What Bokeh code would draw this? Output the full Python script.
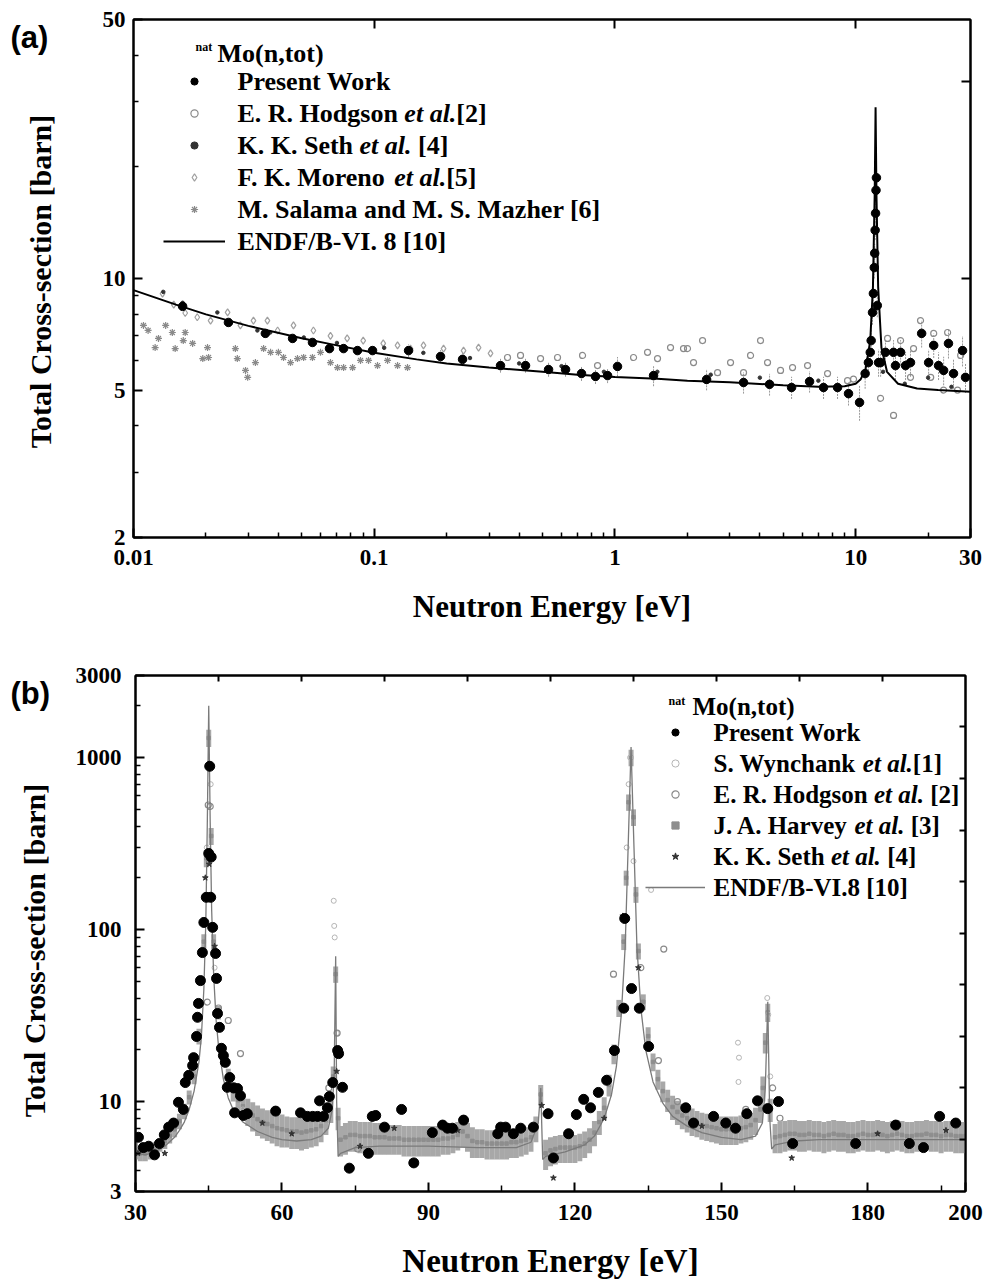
import math
from bokeh.plotting import figure
from bokeh.models import (Range1d, FixedTicker, LogAxis, LinearAxis, Label, Legend,
                          LegendItem, NumeralTickFormatter, ColumnDataSource,
                          CustomJSTickFormatter)
from bokeh.layouts import column, row
from bokeh.embed import file_html
from bokeh.resources import INLINE

# ======================= panel (a) data : 0.01 - 30 eV =======================
a_pw_e = [0.0160, 0.0248, 0.0353, 0.0458, 0.0554, 0.0652, 0.0746, 0.0852, 0.0984,
          0.1389, 0.1886, 0.2328, 0.3347, 0.4252, 0.530, 0.6235, 0.7264, 0.8305, 0.932,
          1.025, 1.447, 2.403, 3.422, 4.389, 5.418, 6.435, 7.355, 8.41, 9.34,
          10.38, 10.95, 11.3, 11.5, 11.6, 11.75, 11.85, 11.95, 12.0, 12.05, 12.1, 12.15,
          12.2, 12.3, 12.45, 12.7, 13.3, 14.37, 14.64, 15.37, 16.12, 16.9, 18.8, 20.1,
          21.1, 22.1, 23.2, 24.3, 25.5, 27.8, 28.6]
a_pw_s = [8.41, 7.61, 7.11, 6.89, 6.72, 6.47, 6.47, 6.39, 6.39,
          6.39, 6.16, 6.05, 5.82, 5.82, 5.68, 5.68, 5.54, 5.44, 5.47,
          5.79, 5.47, 5.34, 5.24, 5.18, 5.08, 5.27, 5.08, 5.08, 4.89,
          4.63, 5.54, 5.93, 6.32, 6.80, 8.10, 9.11, 10.7, 11.7, 13.5, 15.0, 17.3,
          18.7, 8.46, 5.93, 5.93, 6.32, 6.32, 5.82, 6.32, 5.82, 5.93, 7.11, 5.93,
          6.60, 5.82, 5.65, 6.68, 5.54, 6.39, 5.41]
a_pw_d = [0.15, 0.15, 0.15, 0.15, 0.15, 0.15, 0.15, 0.15, 0.15,
          0.25, 0.25, 0.25, 0.25, 0.25, 0.25, 0.25, 0.25, 0.25, 0.25,
          0.35, 0.35, 0.35, 0.35, 0.35, 0.35, 0.35, 0.35, 0.35, 0.35,
          0.5, 0.5, 0.5, 0.5, 0.5, 0.6, 0.6, 0.7, 0.7, 0.8, 0.9, 1.0,
          1.0, 0.6, 0.5, 0.5, 0.5, 0.5, 0.5, 0.5, 0.5, 0.5, 0.6, 0.5,
          0.5, 0.5, 0.5, 0.6, 0.5, 0.6, 0.5]

a_hod_e = [0.3579, 0.4053, 0.4909, 0.5775, 0.7336, 0.8467, 1.195, 1.366, 1.503, 1.702,
           1.927, 2.002, 2.121, 2.312, 2.669, 3.022, 3.422, 3.659, 4.026, 4.305, 4.875,
           5.468, 6.313, 7.644, 9.254, 9.80, 12.69, 13.57, 14.37, 15.37, 16.9, 17.4,
           18.6, 20.5, 21.1, 23.2, 24.1, 26.5, 27.3]
a_hod_s = [6.12, 6.2, 6.08, 6.12, 6.2, 5.82, 6.12, 6.32, 6.08, 6.51,
           6.47, 6.47, 5.93, 6.8, 5.57, 5.93, 5.57, 6.2, 6.8, 5.93, 5.65,
           5.75, 5.82, 5.54, 5.3, 5.35, 4.75, 6.89, 4.27, 6.8, 5.41, 6.47,
           7.7, 5.41, 7.11, 5.0, 7.15, 5.0, 6.2]

a_seth_e = [0.0133, 0.016, 0.0223, 0.0253, 0.0327, 0.037, 0.051, 0.07, 0.11, 0.16,
            0.25, 0.4, 0.6, 0.9, 1.5, 2.5, 4.0, 7.0, 13.0, 16.0, 20.0, 25.0]
a_seth_s = [9.2, 8.6, 8.1, 7.6, 7.24, 7.15, 6.93, 6.7, 6.5, 6.3,
            6.1, 5.9, 5.8, 5.6, 5.6, 5.5, 5.4, 5.3, 5.6, 5.2, 5.4, 5.1]

a_mor_e = [0.0132, 0.0147, 0.0164, 0.0184, 0.0209, 0.0246, 0.0278, 0.0315, 0.0360,
           0.0397, 0.0462, 0.0559, 0.0658, 0.0772, 0.0900, 0.1090, 0.125, 0.1415,
           0.1602, 0.1941, 0.2350, 0.2713, 0.3042]
a_mor_s = [9.1, 8.5, 8.07, 7.86, 7.7, 8.1, 7.47, 7.7, 7.7,
           7.24, 7.47, 7.24, 7.0, 6.89, 6.8, 6.68, 6.6, 6.47,
           6.6, 6.47, 6.39, 6.51, 6.28]

a_sal_e = [0.0110, 0.0115, 0.0123, 0.0127, 0.0136, 0.0145, 0.0149, 0.0161, 0.0164,
           0.0176, 0.0194, 0.0203, 0.0205, 0.0265, 0.0270, 0.0292, 0.0298, 0.0321,
           0.0347, 0.0371, 0.0400, 0.0420, 0.0449, 0.0480, 0.0509, 0.0554, 0.0598,
           0.0658, 0.0704, 0.0746, 0.0813, 0.0877, 0.0947, 0.1032, 0.1136, 0.1250, 0.1375]
a_sal_s = [7.47, 7.24, 6.51, 6.89, 7.47, 7.15, 6.47, 6.80, 7.15,
           6.68, 6.08, 6.51, 6.12, 6.47, 6.08, 5.65, 5.41, 5.93,
           6.47, 6.32, 6.32, 6.12, 5.93, 6.08, 6.12, 6.12, 6.32,
           5.93, 5.75, 5.75, 5.75, 6.01, 6.01, 5.82, 6.01, 5.82, 5.75]

a_endf_e = [0.01, 0.015, 0.02, 0.03, 0.05, 0.07, 0.1, 0.15, 0.2, 0.3, 0.5, 0.7, 1, 1.5,
            2, 3, 5, 7, 9, 10, 10.5, 11, 11.5, 11.8, 12.0, 12.1, 12.2, 12.4, 12.8,
            13.5, 15, 18, 22, 30]
a_endf_s = [9.3, 8.5, 8.0, 7.45, 6.9, 6.6, 6.3, 6.05, 5.9, 5.75, 5.6, 5.5, 5.42, 5.36,
            5.3, 5.25, 5.15, 5.1, 5.12, 5.2, 5.35, 5.7, 6.8, 9.5, 17, 29, 17, 9.5, 6.5,
            5.6, 5.2, 5.05, 5.0, 4.95]

# ======================= panel (b) data : 30 - 200 eV =======================
b_pw_e = [30.6, 31.6, 32.7, 33.9, 34.9, 35.9, 36.8, 37.8, 38.8, 39.8, 40.2, 40.9, 41.7,
          41.9, 42.5, 42.7, 42.9, 43.3, 43.7, 44.0, 44.5, 45.0, 45.2, 45.4, 45.5, 45.8,
          46.4, 46.6, 46.8, 47.2, 47.6, 48.0, 48.4, 48.8, 49.3, 50.1, 50.3, 50.9, 51.5,
          52.1, 52.9, 58.7, 63.8, 65.2, 66.3, 67.3, 67.7, 68.5, 69.3, 69.7, 70.4, 71.4,
          71.6, 72.4, 73.8, 77.7, 78.5, 79.2, 81.0, 84.5, 87.0, 90.8, 92.9, 93.9, 94.9,
          97.2, 104.2, 104.8, 105.8, 107.4, 108.9, 111.5, 114.5, 115.6, 118.7, 120.3,
          121.8, 123.2, 124.8, 126.5, 128.1, 130.0, 130.2, 131.6, 133.2, 135.1, 142.7,
          144.3, 148.4, 150.9, 152.9, 155.2, 157.4, 159.5, 161.7, 164.6, 177.5, 185.7,
          188.5, 191.4, 194.7, 198.0]
b_pw_s = [6.2, 5.4, 5.5, 4.9, 5.7, 6.4, 7.1, 7.5, 9.9, 9.0, 12.9, 14.2, 16.2,
          18.0, 23.9, 30.9, 37.2, 50.5, 73.5, 110, 154, 277, 890, 154, 264, 103,
          72.6, 52, 32.5, 27, 20.4, 18.5, 16.9, 12.1, 13.8, 12.0, 8.6, 11.9, 10.8,
          8.3, 8.5, 8.8, 8.6, 8.2, 8.2, 8.2, 10.1, 8.2, 9.2, 10.7, 12.9, 19.8,
          19.0, 12.1, 4.1, 5.0, 8.2, 8.3, 7.1, 9.0, 4.4, 6.6, 7.3, 7.0, 7.0,
          7.8, 6.5, 7.1, 7.1, 6.5, 7.0, 7.1, 8.5, 4.7, 6.5, 8.4,
          10.3, 9.2, 11.3, 13.3, 19.8, 34.9, 116, 45.4, 34.9, 20.9, 9.2,
          7.5, 8.2, 7.5, 7.0, 8.5, 10.1, 9.1, 10.0, 5.7, 5.7, 7.3,
          5.7, 5.4, 8.2, 7.5]

b_wyn_e = [44.6, 45.0, 45.4, 46.2, 52.0, 70.6, 70.7, 70.8, 71.2, 130.6, 131.0, 131.3,
           132.0, 135.6, 153.4, 153.6, 153.5, 159.4, 159.6, 160.0]
b_wyn_s = [300, 900, 700, 60, 9, 147, 105, 90, 25, 300, 700, 1000,
           250, 170, 22, 18, 13, 40, 32, 14]

b_hod_e = [44.7, 44.9, 45.3, 47.0, 49.0, 51.5, 69.6, 71.3, 75.5, 127.9, 133.5, 137.1,
           138.2, 141.0, 155.0, 160.5, 162.0]
b_hod_s = [37.9, 530, 520, 35, 29.6, 19, 12, 25, 5.3, 55, 60, 17.3,
           77, 10, 9, 12, 8]

b_seth_e = [30.5, 36.0, 44.3, 45.1, 46.2, 56.0, 62.0, 71.2, 76.0, 83.0, 96.0, 113.2,
            115.6, 126.0, 129.8, 133.0, 146.0, 164.4, 182.0, 196.0]
b_seth_s = [5.0, 5.0, 200, 240, 80, 7.5, 6.5, 15, 5.5, 7.0, 6.8, 9.5,
            3.6, 8.0, 120, 60, 7.2, 4.7, 6.5, 6.8]

b_har_e = [30, 31, 32, 33, 34, 35, 36, 37, 38, 39, 40, 41, 42, 43, 44,
           44.5, 45, 45.5, 46, 47, 48, 49, 50,
           51, 52, 53, 54, 55, 56, 57, 58, 59, 60, 61, 62, 63, 64, 65, 66, 67, 68, 69, 70,
           70.5, 71, 71.5,
           72, 73, 74, 75, 76, 77, 78, 79, 80, 81, 82, 83, 84, 85, 86, 87, 88, 89, 90, 91,
           92, 93, 94, 95, 96, 97, 98, 99, 100, 101, 102, 103, 104, 105, 106, 107, 108,
           109, 110, 111, 112,
           113, 114, 115, 116, 117, 118, 119, 120, 121, 122, 123, 124, 125, 126, 127, 128,
           129, 130,
           130.5, 131, 131.5, 132, 132.5,
           133, 134, 135, 136, 137, 138, 139, 140, 141, 142, 143, 144, 145, 146, 147, 148,
           149, 150, 151, 152, 153, 154, 155, 156, 157, 158,
           158.5, 159, 159.5,
           160, 161, 162, 163, 164, 165, 166, 167, 168, 169, 170, 171, 172, 173, 174, 175,
           176, 177, 178, 179, 180, 181, 182, 183, 184, 185, 186, 187, 188, 189, 190, 191,
           192, 193, 194, 195, 196, 197, 198, 199, 200]
b_har_s = [5.2, 5.0, 5.0, 5.1, 5.3, 5.6, 5.9, 6.3, 6.9, 7.7, 8.8, 10.6, 14.0, 24.0, 85,
           260, 1300, 350, 85, 33, 19, 14, 11.5,
           10.2, 9.4, 8.8, 8.3, 7.9, 7.6, 7.4, 7.2, 7.0, 6.9, 6.8, 6.7, 6.7, 6.6, 6.7, 6.8,
           6.9, 7.2, 7.8, 9.0,
           14, 55, 8.0,
           6.0, 6.2, 6.4, 6.4, 6.3, 6.3, 6.3, 6.2, 6.2, 6.2, 6.1, 6.1, 6.1, 6.0, 6.0, 6.0,
           6.0, 6.0, 6.0, 6.0, 6.0, 6.1, 6.1, 6.2, 6.4, 6.7, 6.3, 5.9, 5.8, 5.8, 5.7, 5.7,
           5.7, 5.7, 5.7, 5.8, 5.8, 5.9, 6.0, 6.2, 7.0,
           11.0, 5.0, 5.2, 5.3, 5.4, 5.4, 5.4, 5.4, 5.5, 5.7, 6.0, 6.6, 7.6, 9.2, 12.5, 19,
           35, 85,
           200, 550, 1000, 450, 160,
           75, 38, 24, 17, 13.5, 11.5, 10.2, 9.3, 8.7, 8.3, 8.0, 7.7, 7.5, 7.3, 7.2, 7.1,
           7.0, 6.9, 6.9, 6.9, 6.9, 7.0, 7.1, 7.3, 7.8, 9.0,
           12, 22, 33,
           9.0, 6.2, 6.3, 6.4, 6.5, 6.5, 6.4, 6.4, 6.5, 6.4, 6.4, 6.3, 6.4, 6.5, 6.4, 6.4,
           6.3, 6.3, 6.4, 6.5, 6.4, 6.4, 6.5, 6.4, 6.3, 6.4, 6.5, 6.4, 6.3, 6.3, 6.4, 6.4,
           6.5, 6.4, 6.4, 6.3, 6.4, 6.4, 6.3, 6.3, 6.3]
b_har_d = [0.6, 0.5, 0.5, 0.5, 0.5, 0.5, 0.6, 0.6, 0.7, 0.8, 0.9, 1.0, 1.4, 2.5, 9,
           30, 150, 40, 9, 3, 2, 1.5, 1.5,
           1.6, 1.6, 1.6, 1.6, 1.6, 1.5, 1.5, 1.5, 1.5, 1.5, 1.4, 1.4, 1.4, 1.4, 1.4, 1.4,
           1.4, 1.4, 1.4, 1.5,
           2, 6, 1.2,
           1.2, 1.3, 1.3, 1.3, 1.3, 1.3, 1.3, 1.3, 1.3, 1.3, 1.2, 1.2, 1.2, 1.2, 1.2, 1.2,
           1.2, 1.2, 1.2, 1.2, 1.2, 1.2, 1.2, 1.2, 1.2, 1.3, 1.2, 1.2, 1.1, 1.1, 1.1, 1.1,
           1.1, 1.1, 1.1, 1.1, 1.1, 1.1, 1.1, 1.1, 1.2,
           1.5, 1.0, 1.0, 1.0, 1.0, 1.0, 1.0, 1.0, 1.0, 1.0, 1.0, 1.1, 1.2, 1.4, 1.8, 2.5,
           4, 9,
           20, 60, 110, 50, 17,
           8, 4, 3, 2, 1.8, 1.6, 1.5, 1.5, 1.4, 1.4, 1.4, 1.4, 1.3, 1.3, 1.3, 1.3,
           1.3, 1.3, 1.3, 1.3, 1.3, 1.3, 1.3, 1.3, 1.4, 1.5,
           2, 3, 4,
           1.4, 1.2, 1.3, 1.3, 1.3, 1.3, 1.3, 1.3, 1.3, 1.3, 1.3, 1.3, 1.3, 1.3, 1.3, 1.3,
           1.3, 1.3, 1.3, 1.3, 1.3, 1.3, 1.3, 1.3, 1.3, 1.3, 1.3, 1.3, 1.3, 1.3, 1.3, 1.3,
           1.3, 1.3, 1.3, 1.3, 1.3, 1.3, 1.3, 1.3, 1.3]

b_endf_e = [30, 32, 34, 36, 38, 39, 40, 41, 42, 43, 43.5, 44, 44.4, 44.7, 45.0, 45.3,
            45.6, 46, 46.5, 47, 48, 49, 50, 52, 55, 58, 60, 63, 66, 68, 69.5, 70.3, 70.7,
            71.0, 71.2, 71.5, 72, 75, 80, 90, 100, 108, 111, 112.5, 113.0, 113.4, 114,
            118, 122, 124, 126, 127.5, 128.5, 129.5, 130.3, 130.9, 131.5, 132.1, 132.7,
            133.5, 134.5, 136, 138, 140, 143, 146, 150, 154, 157, 158.4, 159.0, 159.5,
            159.9, 160.3, 161, 165, 170, 180, 190, 200]
b_endf_s = [5.0, 4.9, 5.1, 5.5, 6.2, 6.8, 7.6, 9.0, 11.5, 17, 24, 45, 110, 400, 2000,
            420, 130, 55, 30, 21, 13.5, 10.5, 9.0, 7.6, 6.7, 6.2, 6.0, 5.9, 6.0, 6.3,
            7.0, 9, 15, 70, 10, 4.8, 5.0, 5.4, 5.5, 5.5, 5.4, 5.4, 5.8, 7.5, 12, 4.6,
            4.8, 5.1, 5.6, 6.3, 8.0, 11, 16, 32, 80, 300, 1150, 300, 80, 35, 20, 13,
            9.8, 8.2, 7.2, 6.6, 6.2, 6.0, 6.3, 7.5, 12, 38, 8, 5.3, 5.6, 5.9, 6.0,
            6.0, 6.0, 6.0]

# axis tick values
a_xticks = [0.01, 0.1, 1, 10, 30]
a_xminor = [0.02, 0.03, 0.04, 0.05, 0.06, 0.07, 0.08, 0.09, 0.2, 0.3, 0.4, 0.5, 0.6,
            0.7, 0.8, 0.9, 2, 3, 4, 5, 6, 7, 8, 9, 20]
a_yticks = [2, 5, 10, 50]
a_yminor = [3, 4, 6, 7, 8, 9, 20, 30, 40]
b_xticks = [30, 60, 90, 120, 150, 180, 200]
b_xminor = [45, 75, 105, 135, 165, 195]
b_yticks = [3, 10, 100, 1000, 3000]
b_yminor = [4, 5, 6, 7, 8, 9, 20, 30, 40, 50, 60, 70, 80, 90, 200, 300, 400, 500, 600,
            700, 800, 900, 2000]

SERIF = "Liberation Serif"
GRAY = "#8a8a8a"
SIDE_W = 62   # width of the strip that carries the panel letter and y title

# Times/Liberation Serif bold advance widths (per 1000 em)
WB = {" ": 250, ".": 250, ",": 250, "/": 278, "-": 333, "[": 333, "]": 333, "(": 333,
      ")": 333, "A": 722, "B": 667, "D": 722, "E": 667, "F": 611, "H": 778, "J": 500,
      "K": 778, "M": 944, "N": 722, "P": 611, "R": 722, "S": 556, "V": 722, "W": 1000,
      "I": 389, "a": 500, "c": 444, "d": 556, "e": 444, "g": 500, "h": 556, "k": 556,
      "l": 278, "m": 833, "n": 556, "o": 500, "r": 444, "s": 389, "t": 333, "v": 500,
      "y": 500, "z": 444}
WBI = {" ": 250, ".": 250, "e": 444, "t": 278, "a": 500, "l": 278}


def tw(s, size, table):
    return sum(table.get(c, 500) for c in s) * size / 1000.0


def style_axis(ax, labels=True, size="23px", standoff=12):
    ax.axis_line_width = 2
    ax.axis_line_color = "black"
    ax.major_tick_in = 9
    ax.major_tick_out = 0
    ax.minor_tick_in = 5
    ax.minor_tick_out = 0
    ax.major_tick_line_width = 2
    ax.minor_tick_line_width = 1.5
    ax.major_tick_line_color = "black"
    ax.minor_tick_line_color = "black"
    if labels:
        ax.major_label_text_font = SERIF
        ax.major_label_text_font_style = "bold"
        ax.major_label_text_font_size = size
        ax.major_label_text_color = "black"
        ax.major_label_standoff = standoff
    else:
        ax.formatter = CustomJSTickFormatter(code="return ''")
        ax.major_label_text_font_size = "2px"
        ax.major_label_standoff = 0


def make_fig(w, h, xr, yr, xtype, fl, fr, ft, fb):
    p = figure(width=w, height=h, x_axis_type=xtype, y_axis_type="log",
               x_range=Range1d(*xr), y_range=Range1d(*yr),
               output_backend="svg", toolbar_location=None,
               min_border_left=fl, min_border_right=fr, min_border_top=ft,
               min_border_bottom=fb)
    p.xgrid.visible = False
    p.ygrid.visible = False
    p.outline_line_color = "black"
    p.outline_line_width = 2
    p.background_fill_color = "white"
    p.border_fill_color = "white"
    return p


def make_side(h):
    s = figure(width=SIDE_W, height=h, x_range=Range1d(0, SIDE_W), y_range=Range1d(0, h),
               output_backend="svg", toolbar_location=None, x_axis_location=None,
               y_axis_location=None, min_border=0)
    s.xgrid.visible = False
    s.ygrid.visible = False
    s.outline_line_color = None
    s.background_fill_color = "white"
    s.border_fill_color = "white"
    return s


class Canvas:
    """place screen-unit labels using page pixel coordinates"""
    def __init__(self, p, x0, y0, frame_left, frame_bottom):
        self.p, self.x0, self.y0, self.fl, self.fb = p, x0, y0, frame_left, frame_bottom

    def label(self, X, Y, text, size, font=SERIF, style="bold", align="left", angle=0.0):
        self.p.add_layout(Label(x=X - self.x0 - self.fl, y=self.fb - (Y - self.y0),
                                x_units="screen", y_units="screen", text=text,
                                text_font=font, text_font_style=style,
                                text_font_size=f"{size}px", text_color="black",
                                text_align=align, text_baseline="middle", angle=angle))

    def rich(self, X, Y, parts, size):
        x = X
        for txt, style in parts:
            table = WBI if "italic" in style else WB
            lead = len(txt) - len(txt.lstrip(" "))
            x += tw(" " * lead, size, table)
            core = txt.strip(" ")
            if core:
                self.label(x, Y, core, size, style=style)
            x += tw(txt.lstrip(" "), size, table)


def make_legend(renderers, loc, gw, spacing):
    return Legend(items=[LegendItem(label=" ", renderers=[r]) for r in renderers],
                  location=loc, label_text_font_size="4px", glyph_width=gw,
                  glyph_height=18, label_height=24, label_width=1, label_standoff=0,
                  spacing=spacing, padding=10, margin=0, border_line_alpha=0,
                  background_fill_alpha=0)


def x_title(ax, text, size, standoff):
    ax.axis_label = text
    ax.axis_label_text_font = SERIF
    ax.axis_label_text_font_style = "bold"
    ax.axis_label_text_font_size = f"{size}px"
    ax.axis_label_text_color = "black"
    ax.axis_label_standoff = standoff


# ============================ panel (a) ============================
p1 = make_fig(990 - SIDE_W, 640, (0.01, 30), (2, 50), "log", 133 - SIDE_W, 20, 19, 103)
style_axis(p1.xaxis[0], standoff=12)
style_axis(p1.yaxis[0], standoff=8)
p1.xaxis[0].ticker = FixedTicker(ticks=a_xticks, minor_ticks=a_xminor)
p1.xaxis[0].formatter = NumeralTickFormatter(format="0.[00]")
p1.yaxis[0].ticker = FixedTicker(ticks=a_yticks, minor_ticks=a_yminor)
p1.yaxis[0].formatter = NumeralTickFormatter(format="0")
x_title(p1.xaxis[0], "Neutron Energy [eV]", 31, 21)
ax_top = LogAxis(ticker=FixedTicker(ticks=[0.1, 1, 10]))
style_axis(ax_top, labels=False)
p1.add_layout(ax_top, "above")
ax_r = LogAxis(ticker=FixedTicker(ticks=[10, 34]))
style_axis(ax_r, labels=False)
p1.add_layout(ax_r, "right")

src_a_pw = ColumnDataSource(dict(e=a_pw_e, s=a_pw_s,
                                 lo=[s - d for s, d in zip(a_pw_s, a_pw_d)],
                                 hi=[s + d for s, d in zip(a_pw_s, a_pw_d)]))
p1.segment(x0="e", y0="lo", x1="e", y1="hi", source=src_a_pw, line_color="#9a9a9a",
           line_width=1, line_dash="2 1")
r_a_sal = p1.scatter(a_sal_e, a_sal_s, marker="asterisk", size=7, line_color=GRAY,
                     line_width=1.2)
r_a_mor = p1.scatter(a_mor_e, a_mor_s, marker="diamond", size=7, line_color="#a0a0a0",
                     fill_color=None, line_width=1.2)
r_a_hod = p1.scatter(a_hod_e, a_hod_s, marker="circle", size=6, line_color=GRAY,
                     fill_color=None, line_width=1.2)
r_a_seth = p1.scatter(a_seth_e, a_seth_s, marker="circle", size=3.5, color="#333333")
r_a_endf = p1.line(a_endf_e, a_endf_s, line_color="black", line_width=2)
r_a_pw = p1.scatter("e", "s", source=src_a_pw, marker="circle", size=8.5,
                    color="black")

p1.add_layout(make_legend([r_a_pw, r_a_hod, r_a_seth, r_a_mor, r_a_sal, r_a_endf],
                          (20, 274), 62, 8))

c1 = Canvas(p1, SIDE_W, 0, 133 - SIDE_W, 537)
c1.label(195, 46, "nat", 12)
c1.label(217, 53, "Mo(n,tot)", 26)
rows1 = [[("Present Work", "bold")],
         [("E. R. Hodgson ", "bold"), ("et al.", "bold italic"), ("[2]", "bold")],
         [("K. K. Seth ", "bold"), ("et al.", "bold italic"), (" [4]", "bold")],
         [("F. K. Moreno ", "bold"), ("et al.", "bold italic"), ("[5]", "bold")],
         [("M. Salama and M. S. Mazher [6]", "bold")],
         [("ENDF/B-VI. 8 [10]", "bold")]]
for i, parts in enumerate(rows1):
    c1.rich(237, 81 + 32 * i, parts, 26)

# side strip: its frame is aligned by the row with the frame of p1 (page y 19..537)
s1 = make_side(640)
cs1 = Canvas(s1, 0, 0, 0, 537)
cs1.label(10, 37, "(a)", 31, font="Liberation Sans", style="bold")
cs1.label(40, 281, "Total Cross-section [barn]", 30, align="center", angle=math.pi / 2)

# ============================ panel (b) ============================
p2 = make_fig(990 - SIDE_W, 644, (30, 200), (3, 3000), "linear", 135 - SIDE_W, 25, 35, 93)
style_axis(p2.xaxis[0], standoff=13)
style_axis(p2.yaxis[0], standoff=14)
p2.xaxis[0].ticker = FixedTicker(ticks=b_xticks, minor_ticks=b_xminor)
p2.xaxis[0].formatter = NumeralTickFormatter(format="0")
p2.xaxis[0].minor_tick_in = 6
p2.yaxis[0].ticker = FixedTicker(ticks=b_yticks, minor_ticks=b_yminor)
p2.yaxis[0].formatter = NumeralTickFormatter(format="0")
x_title(p2.xaxis[0], "Neutron Energy [eV]", 33, 20)
ax_top2 = LinearAxis(ticker=FixedTicker(ticks=[47, 64, 81, 98, 115, 132, 149, 166, 183]))
style_axis(ax_top2, labels=False)
ax_top2.major_tick_in = 6
p2.add_layout(ax_top2, "above")
ax_r2 = LogAxis(ticker=FixedTicker(ticks=[6, 12, 24, 48, 95, 190, 379, 756, 1507]))
style_axis(ax_r2, labels=False)
ax_r2.major_tick_in = 6
p2.add_layout(ax_r2, "right")

src_b_har = ColumnDataSource(dict(e=b_har_e, s=b_har_s,
                                  lo=[s - d for s, d in zip(b_har_s, b_har_d)],
                                  hi=[s + d for s, d in zip(b_har_s, b_har_d)]))
p2.segment(x0="e", y0="lo", x1="e", y1="hi", source=src_b_har, line_color="#a8a8a8",
           line_width=5)
r_b_har = p2.scatter("e", "s", source=src_b_har, marker="square", size=3.5,
                     color="#8e8e8e")
r_b_wyn = p2.scatter(b_wyn_e, b_wyn_s, marker="circle", size=5, line_color="#b5b5b5",
                     fill_color=None, line_width=1)
r_b_hod = p2.scatter(b_hod_e, b_hod_s, marker="circle", size=6, line_color=GRAY,
                     fill_color=None, line_width=1.2)
r_b_endf = p2.line(b_endf_e, b_endf_s, line_color="#7a7a7a", line_width=1.3)
r_b_seth = p2.scatter(b_seth_e, b_seth_s, marker="star", size=6, color="#333333")
r_b_pw = p2.scatter(b_pw_e, b_pw_s, marker="circle", size=10, color="black")

p2.add_layout(make_legend([r_b_pw, r_b_wyn, r_b_hod, r_b_har, r_b_seth, r_b_endf],
                          (500, 282), 60, 7))

c2 = Canvas(p2, SIDE_W, 640, 135 - SIDE_W, 551)
c2.label(668, 700, "nat", 12)
c2.label(692, 706, "Mo(n,tot)", 25)
rows2 = [[("Present Work", "bold")],
         [("S. Wynchank ", "bold"), ("et al.", "bold italic"), ("[1]", "bold")],
         [("E. R. Hodgson ", "bold"), ("et al.", "bold italic"), (" [2]", "bold")],
         [("J. A. Harvey ", "bold"), ("et al.", "bold italic"), (" [3]", "bold")],
         [("K. K. Seth ", "bold"), ("et al.", "bold italic"), (" [4]", "bold")],
         [("ENDF/B-VI.8 [10]", "bold")]]
for i, parts in enumerate(rows2):
    c2.rich(713, 732 + 31 * i, parts, 25)

# side strip: frame aligned with the frame of p2 (page y 675..1191)
s2 = make_side(644)
cs2 = Canvas(s2, 0, 640, 0, 551)
cs2.label(10, 693, "(b)", 31, font="Liberation Sans", style="bold")
cs2.label(34, 950, "Total Cross-section [barn]", 30, align="center", angle=math.pi / 2)

layout = column(row(s1, p1, spacing=0), row(s2, p2, spacing=0), spacing=0)
open("out.html", "w").write(file_html(layout, INLINE))
